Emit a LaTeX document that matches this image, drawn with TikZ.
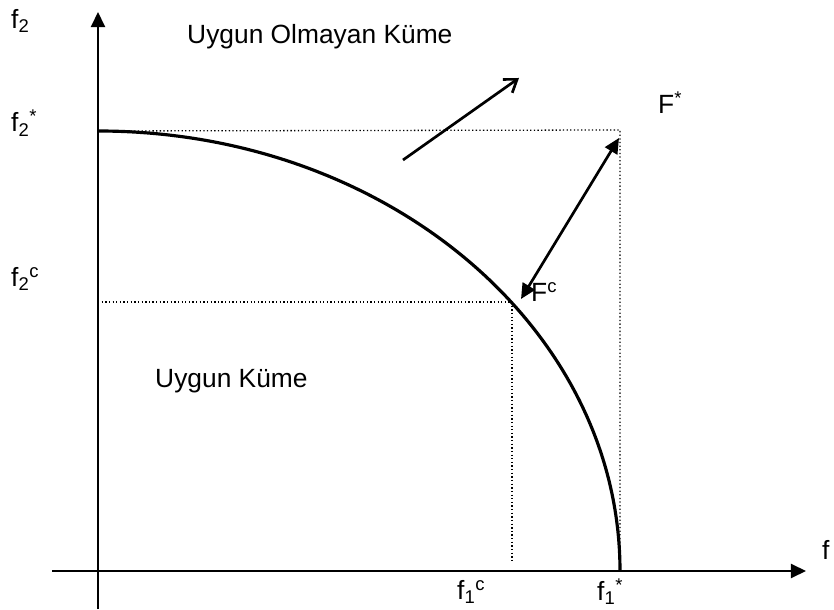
\documentclass[tikz,border=0pt]{standalone}
\usepackage{fontspec}
\setmainfont{Liberation Sans}
\usepackage{tikz}
\usetikzlibrary{arrows.meta,positioning,calc}

\begin{document}
\begin{tikzpicture}[
    x=0.03cm,y=0.03cm,
    lbl/.style={inner sep=0pt,anchor=west,font=\fontsize{22.5}{26}\selectfont},
    axis/.style={line width=2.4pt,-{Triangle[length=13pt,width=12pt]}},
    guide/.style={dotted,line width=1.1pt},
    >=Stealth
]
\useasboundingbox (0,0) rectangle (834,609);
% axes
\coordinate (o) at (98,38);
\coordinate (ybot) at (98,0);
\coordinate (ytop) at (98,597);
\coordinate (xleft) at (52,38);
\coordinate (xright) at (806,38);
\draw[axis] (ybot) -- (ytop);
\draw[axis] (xleft) -- (xright);
% corner points
\coordinate (top) at (98,478);
\coordinate (fstar) at (620,479);
\coordinate (f1s) at (620,38);
\coordinate (fc) at (512,307);
\coordinate (f2c) at (98,307);
\coordinate (f1c) at (512,48);
% guides
\draw[guide] (top) -- (fstar) -- (f1s);
\draw[guide] (f2c) -- (fc) -- (f1c);
% front
\draw[line width=2.7pt] (top) arc[start angle=90,end angle=0,x radius=522,y radius=440];
% arrows
\coordinate (a1) at (403,449);
\coordinate (a2) at (519,531);
\draw[line width=2.3pt,-{Straight Barb[length=10pt,width=14pt]}] (a1) -- (a2);
\coordinate (b1) at (619,471);
\coordinate (b2) at (521,310);
\draw[line width=2.3pt,{Triangle[length=13pt,width=12pt]}-{Triangle[length=13pt,width=12pt]}] (b2) -- (b1);
% labels
\node[lbl] (lf2) at (11,588) {f\textsubscript{2}};
\node[lbl] (lf2s) at (11,486) {f\textsubscript{2}\textsuperscript{*}};
\node[lbl] (lf2c) at (11,330) {f\textsubscript{2}\textsuperscript{c}};
\node[lbl] (infeas) at (187,572) {Uygun Olmayan Küme};
\node[lbl] (lFs) at (658,506) {F\textsuperscript{*}};
\node[lbl] (lFc) at (531,317) {F\textsuperscript{c}};
\node[lbl] (feas) at (155,228) {Uygun Küme};
\node[lbl] (lf) at (822,59) {f};
\node[lbl] (lf1c) at (457,17) {f\textsubscript{1}\textsuperscript{c}};
\node[lbl] (lf1s) at (597,17) {f\textsubscript{1}\textsuperscript{*}};
\end{tikzpicture}
\end{document}
